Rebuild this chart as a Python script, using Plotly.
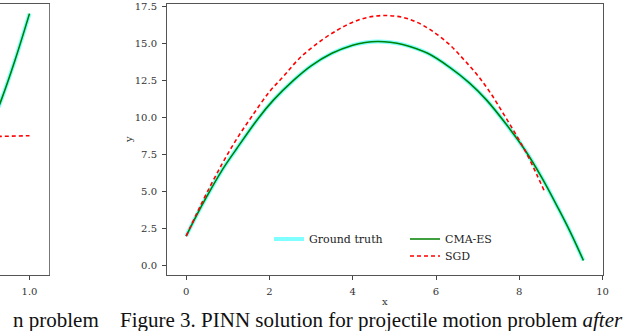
import plotly.graph_objects as go

# main panel: trajectory
cma_x = [0.0, 0.25, 0.5, 0.86, 1.2, 1.73, 2.1, 2.57, 3.0, 3.5, 4.0, 4.3, 4.6,
         4.9, 5.2, 5.8, 6.33, 6.8, 7.21, 7.7, 8.14, 8.54, 8.94, 9.22, 9.54]
cma_y = [2.0, 3.4, 4.7, 6.44, 7.85, 9.95, 11.2, 12.5, 13.5, 14.35, 14.9, 15.08, 15.15,
         15.1, 14.95, 14.35, 13.4, 12.35, 11.2, 9.5, 7.8, 5.95, 3.85, 2.3, 0.35]
truth_x = cma_x
truth_y = cma_y
sgd_x = [0.0, 0.25, 0.5, 0.86, 1.2, 1.58, 2.0, 2.34, 2.7, 3.14, 3.62, 4.0, 4.4,
         4.8, 5.2, 5.5, 5.86, 6.3, 6.66, 7.0, 7.3, 7.6, 7.9, 8.18, 8.42, 8.6]
sgd_y = [2.0, 3.5, 4.94, 6.86, 8.5, 10.1, 11.75, 12.8, 13.95, 15.0, 15.9, 16.45, 16.8,
         16.9, 16.78, 16.5, 15.95, 15.0, 13.95, 12.85, 11.7, 10.35, 8.95, 7.55, 6.15, 5.05]

# cut-off panel on the left (only its right edge shows)
left_x = [0.92, 0.926, 0.963, 1.0]
left_cma = [10.6, 11.0, 13.85, 17.03]
left_sgd_x = [0.92, 1.0]
left_sgd = [8.73, 8.78]

y_ticks = [0, 2.5, 5, 7.5, 10, 12.5, 15, 17.5]
x_ticks = [0, 2, 4, 6, 8, 10]

W, H = 640, 331
TOP, BOT = 4, 56
ph = H - TOP - BOT
def py(p):  # pixel row -> paper y
    return (H - BOT - p) / ph

tick_font = dict(family="DejaVu Serif", size=10, color="#333")
leg_font = dict(family="DejaVu Serif", size=11, color="#222")
cap_font = dict(family="Liberation Serif", size=21, color="#111")
cyan = "rgba(0,255,255,0.5)"

fig = go.Figure()
fig.add_trace(go.Scatter(x=truth_x, y=truth_y, mode="lines", name="Ground truth", line_shape="spline",
                         line=dict(color=cyan, width=4), legend="legend"))
fig.add_trace(go.Scatter(x=cma_x, y=cma_y, mode="lines", name="CMA-ES", line_shape="spline",
                         line=dict(color="green", width=1.6), legend="legend2"))
fig.add_trace(go.Scatter(x=sgd_x, y=sgd_y, mode="lines", name="SGD", line_shape="spline",
                         line=dict(color="red", width=1.6, dash="4px,3px"), legend="legend3"))

fig.add_trace(go.Scatter(x=left_x, y=left_cma, mode="lines", showlegend=False, line_shape="spline",
                         line=dict(color=cyan, width=4), xaxis="x2", yaxis="y2"))
fig.add_trace(go.Scatter(x=left_x, y=left_cma, mode="lines", showlegend=False, line_shape="spline",
                         line=dict(color="green", width=1.6), xaxis="x2", yaxis="y2"))
fig.add_trace(go.Scatter(x=left_sgd_x, y=left_sgd, mode="lines", showlegend=False,
                         line=dict(color="red", width=1.6, dash="4px,3px"), xaxis="x2", yaxis="y2"))

axis_common = dict(showgrid=False, zeroline=False, ticks="outside", ticklen=4, automargin=False,
                   ticklabelstandoff=3, tickcolor="#444", linecolor="#555", linewidth=1,
                   tickfont=tick_font)

fig.update_layout(
    width=W, height=H,
    margin=dict(l=0, r=0, t=TOP, b=BOT, pad=0),
    paper_bgcolor="white", plot_bgcolor="white",
    xaxis=dict(domain=[167 / W, 603 / W], range=[-0.46, 10.01], tickvals=x_ticks,
               showline=True, mirror=True, **axis_common),
    yaxis=dict(range=[-0.63, 17.68], tickvals=y_ticks, tickformat=".1f",
               showline=True, mirror=True, **axis_common),
    xaxis2=dict(domain=[0, 49.3 / W], range=[0.9255, 1.05], tickvals=[1.0], tickformat=".1f",
                showline=True, mirror=True, anchor="y2", **axis_common),
    yaxis2=dict(range=[-0.63, 17.68], anchor="x2", side="right", showticklabels=False,
                ticks="", showline=True, showgrid=False, zeroline=False, automargin=False,
                linecolor="#777", linewidth=1),
    legend=dict(x=269 / W, y=py(239), xanchor="left", yanchor="middle",
                bgcolor="rgba(0,0,0,0)", font=leg_font),
    legend2=dict(x=405 / W, y=py(239), xanchor="left", yanchor="middle",
                 bgcolor="rgba(0,0,0,0)", font=leg_font),
    legend3=dict(x=405 / W, y=py(256), xanchor="left", yanchor="middle",
                 bgcolor="rgba(0,0,0,0)", font=leg_font),
)

ann = [
    dict(text="x", x=385 / W, y=py(301), xref="paper", yref="paper", showarrow=False,
         xanchor="center", yanchor="middle",
         font=dict(family="DejaVu Serif", size=10, color="#333")),
    dict(text="y", x=128 / W, y=py(140), xref="paper", yref="paper", showarrow=False,
         xanchor="center", yanchor="middle",
         textangle=-90, font=dict(family="DejaVu Serif", size=10, color="#333")),
    dict(text="Figure 3. PINN solution for projectile motion problem <i>after</i>",
         x=118 / W, y=py(320), xref="paper", yref="paper", xanchor="left", yanchor="middle",
         showarrow=False, font=cap_font),
    dict(text="n problem", x=101 / W, y=py(320), xref="paper", yref="paper",
         xanchor="right", yanchor="middle", showarrow=False, font=cap_font),
]
fig.update_layout(annotations=ann)

# drop the default body margin so the figure sits at the window's corner
fig.write_html("out.html", config={"displayModeBar": False},
               post_script="document.body.style.margin='0';")
